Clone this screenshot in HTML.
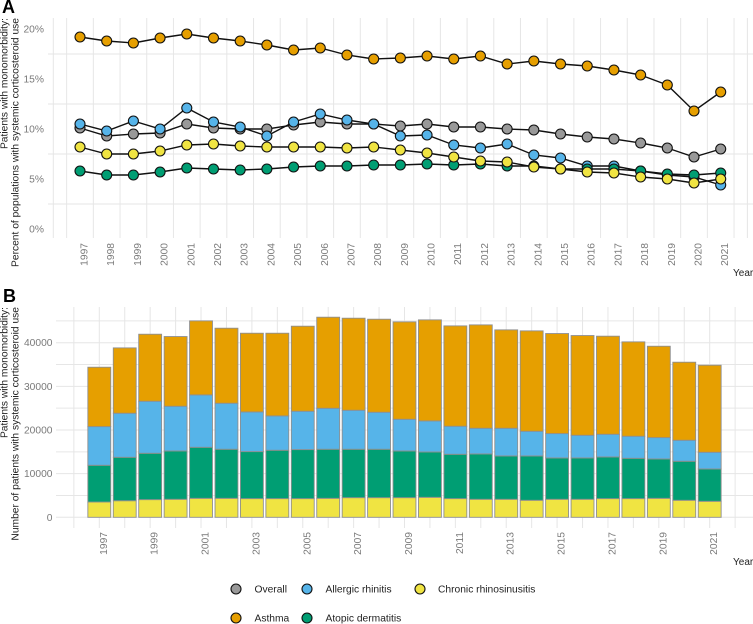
<!DOCTYPE html>
<html>
<head>
<meta charset="utf-8">
<title>Systemic corticosteroid use in patients with monomorbidity</title>
<style>
html,body{margin:0;padding:0;background:#fff;}
svg{display:block;font-family:"Liberation Sans",sans-serif;}
</style>
</head>
<body>
<svg id="chart" xmlns="http://www.w3.org/2000/svg" width="753" height="624" viewBox="0 0 753 624">
  <g id="gridA"></g>
  <g id="gridB"></g>
  <g id="bars"></g>
  <g id="lines"></g>
  <g id="ticks"></g>

  <text x="2" y="13" font-size="18" font-weight="bold" fill="#000">A</text>
  <text x="3" y="302" font-size="18" font-weight="bold" fill="#000">B</text>

  <g font-size="10.25" fill="#222" text-anchor="end">
    <text transform="translate(7.5,18) rotate(-90)">Patients with monomorbidity:</text>
    <text transform="translate(18.5,18) rotate(-90)">Percent of populations with systemic corticosteroid use</text>
  </g>
  <g font-size="10.25" fill="#222" text-anchor="end">
    <text transform="translate(7.5,307) rotate(-90)">Patients with monomorbidity:</text>
    <text transform="translate(18.5,307) rotate(-90)">Number of patients with systemic corticosteroid use</text>
  </g>
  <text x="733" y="276" font-size="10" fill="#222">Year</text>
  <text x="733" y="565" font-size="10" fill="#222">Year</text>

  <g font-size="10.25" fill="#222">
    <g>
      <circle cx="236" cy="589" r="5" fill="#999999" stroke="#111" stroke-width="1.1"/>
      <text x="254.5" y="592.5">Overall</text>
    </g>
    <g>
      <circle cx="307" cy="589" r="5" fill="#56B4E9" stroke="#111" stroke-width="1.1"/>
      <text x="325.5" y="592.5">Allergic rhinitis</text>
    </g>
    <g>
      <circle cx="420" cy="589" r="5" fill="#F0E442" stroke="#111" stroke-width="1.1"/>
      <text x="438" y="592.5">Chronic rhinosinusitis</text>
    </g>
    <g>
      <circle cx="236" cy="618" r="5" fill="#E69F00" stroke="#111" stroke-width="1.1"/>
      <text x="254.5" y="621.5">Asthma</text>
    </g>
    <g>
      <circle cx="307" cy="618" r="5" fill="#009E73" stroke="#111" stroke-width="1.1"/>
      <text x="325.5" y="621.5">Atopic dermatitis</text>
    </g>
  </g>
</svg>
<script>
const years = [1997,1998,1999,2000,2001,2002,2003,2004,2005,2006,2007,2008,2009,2010,2011,2012,2013,2014,2015,2016,2017,2018,2019,2020,2021];

const pctOverall = [10.1,9.3,9.5,9.6,10.5,10.1,10.0,10.0,10.4,10.7,10.5,10.5,10.3,10.5,10.2,10.2,10.0,9.9,9.5,9.2,9.0,8.6,8.1,7.2,8.0];
const pctAsthma = [19.2,18.8,18.6,19.1,19.5,19.1,18.8,18.4,17.9,18.1,17.4,17.0,17.1,17.3,17.0,17.3,16.5,16.8,16.5,16.3,15.9,15.4,14.4,11.8,13.7];
const pctAllergic = [10.5,9.8,10.8,10.0,12.1,10.7,10.2,9.3,10.7,11.5,10.9,10.5,9.3,9.4,8.4,8.1,8.5,7.4,7.1,6.3,6.3,5.8,5.4,5.2,4.4];
const pctAtopic = [5.8,5.4,5.4,5.7,6.1,6.0,5.9,6.0,6.2,6.3,6.3,6.4,6.4,6.5,6.4,6.5,6.3,6.3,6.0,6.0,6.0,5.8,5.5,5.4,5.6];
const pctChronic = [8.2,7.5,7.5,7.8,8.4,8.5,8.3,8.2,8.2,8.2,8.1,8.2,7.9,7.6,7.2,6.8,6.7,6.2,6.0,5.7,5.6,5.2,5.0,4.6,5.0];

const countChronic = [3500,3800,4050,4130,4350,4350,4280,4280,4280,4350,4500,4500,4500,4580,4280,4130,4130,3900,4130,4130,4280,4280,4350,3900,3670];
const countAtopic = [8420,9950,10620,11070,11690,11240,10770,11080,11230,11240,11090,11090,10700,10390,10160,10390,9930,10160,9470,9470,9550,9240,9020,8940,7410];
const countAllergic = [8860,10090,11920,10240,12000,10540,9090,7870,8790,9390,8930,8480,7260,7110,6420,5880,6340,5650,5580,5190,5190,5050,4890,4810,3820];
const countAsthma = [13600,14970,15350,15970,16960,17190,18030,18940,19480,20860,21090,21310,22310,23150,22990,23680,22540,23000,22920,22850,22470,21620,20930,17880,19940];

const percentTicks = [0,5,10,15,20];
const percentMinorTicks = [2.5,7.5,12.5,17.5];
const countTicks = [0,10000,20000,30000,40000];
const countMinorTicks = [5000,15000,25000,35000,45000];

const NS = 'http://www.w3.org/2000/svg';
const xA = y => 80 + (y - 1997) * 26.696;
const yA = v => 229 - v * 10;
const xB = y => 99.3 + (y - 1997) * 25.433;
const yB = v => 517.3 - v * 0.004365;

function make(tag, parent, attrs) {
  const el = document.createElementNS(NS, tag);
  for (const k in attrs) el.setAttribute(k, attrs[k]);
  parent.appendChild(el);
  return el;
}

const gridColor = '#e6e6e6';
const gridA = document.getElementById('gridA');
const gridB = document.getElementById('gridB');
const bars = document.getElementById('bars');
const linesGroup = document.getElementById('lines');
const ticks = document.getElementById('ticks');

percentMinorTicks.forEach(v => {
  const l = make('line', gridA, {x1:48, x2:753, y1:yA(v), y2:yA(v), stroke:gridColor, 'stroke-width':1});
  
  
});
const gridYearsA = [1996, 1996.5].concat(years.map(y => y + 0.5), [2022]);
gridYearsA.forEach(y => {
  const l = make('line', gridA, {x1:xA(y), x2:xA(y), y1:18, y2:238, stroke:gridColor, 'stroke-width':1});
  
  
});

countTicks.concat(countMinorTicks).forEach(v => {
  const l = make('line', gridB, {x1:56, x2:753, y1:yB(v), y2:yB(v), stroke:gridColor, 'stroke-width':1});
  
  
});
[1996].concat(years, [2022]).forEach(y => {
  const l = make('line', gridB, {x1:xB(y), x2:xB(y), y1:307, y2:528, stroke:gridColor, 'stroke-width':1});
  
  
});

const stackOrder = [
  {key:'chronic-rhinosinusitis', values:countChronic, fill:'#F0E442'},
  {key:'atopic-dermatitis', values:countAtopic, fill:'#009E73'},
  {key:'allergic-rhinitis', values:countAllergic, fill:'#56B4E9'},
  {key:'asthma', values:countAsthma, fill:'#E69F00'}
];
const barWidth = 22.9;
years.forEach((y, i) => {
  let base = 0;
  stackOrder.forEach(s => {
    const top = base + s.values[i];
    const r = make('rect', bars, {
      x: xB(y) - barWidth / 2,
      y: yB(top),
      width: barWidth,
      height: yB(base) - yB(top),
      fill: s.fill,
      stroke: '#8f8f8f',
      'stroke-width': 0.9
    });
    
    
    base = top;
  });
});

const lineOrder = [
  {key:'overall', values:pctOverall, fill:'#999999'},
  {key:'asthma', values:pctAsthma, fill:'#E69F00'},
  {key:'allergic-rhinitis', values:pctAllergic, fill:'#56B4E9'},
  {key:'atopic-dermatitis', values:pctAtopic, fill:'#009E73'},
  {key:'chronic-rhinosinusitis', values:pctChronic, fill:'#F0E442'}
];
lineOrder.forEach(s => {
  const d = s.values.map((v, i) => xA(years[i]).toFixed(2) + ',' + yA(v).toFixed(2)).join(' ');
  const pl = make('polyline', linesGroup, {points:d, fill:'none', stroke:'#111', 'stroke-width':1.4});
  
  
});
lineOrder.forEach(s => {
  s.values.forEach((v, i) => {
    const c = make('circle', linesGroup, {cx:xA(years[i]), cy:yA(v), r:5, fill:s.fill, stroke:'#111', 'stroke-width':1.1});
    
    
  });
});

const tickColor = '#7a7a7a';
percentTicks.forEach(v => {
  const t = make('text', ticks, {x:44, y:yA(v) + 3.5, 'font-size':10.25, fill:tickColor, 'text-anchor':'end'});
  t.textContent = v + '%';
  
  
});
countTicks.forEach(v => {
  const t = make('text', ticks, {x:52.5, y:yB(v) + 3.5, 'font-size':10.25, fill:tickColor, 'text-anchor':'end'});
  t.textContent = String(v);
  
  
});
years.forEach(y => {
  const t = make('text', ticks, {'font-size':10.25, fill:tickColor, 'text-anchor':'end', transform:'translate(' + (xA(y) + 7.5) + ',243) rotate(-90)'});
  t.textContent = String(y);
  
  
});
years.filter((y, i) => i % 2 === 0).forEach(y => {
  const t = make('text', ticks, {'font-size':10.25, fill:tickColor, 'text-anchor':'end', transform:'translate(' + (xB(y) + 7.5) + ',532) rotate(-90)'});
  t.textContent = String(y);
  
  
});
</script>
</body>
</html>
